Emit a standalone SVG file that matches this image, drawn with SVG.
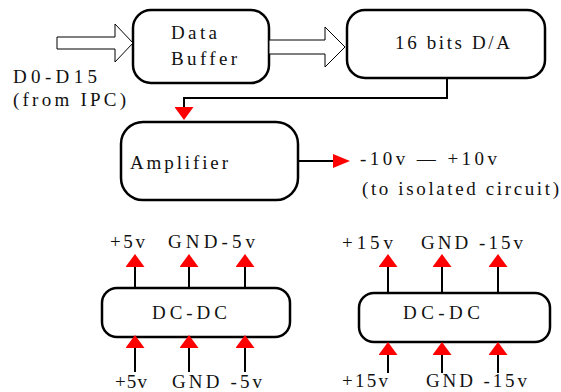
<svg xmlns="http://www.w3.org/2000/svg" width="561" height="392" viewBox="0 0 561 392">
<defs>
<style>
.box{fill:#fff;stroke:#000;stroke-width:2.5}
.t{font-family:"Liberation Serif","Times New Roman",serif;font-size:19px;fill:#111}
.ln{fill:none;stroke:#000;stroke-width:2}
.hol{fill:#fff;stroke:#000;stroke-width:1}
</style>
<marker id="ah" markerUnits="userSpaceOnUse" viewBox="0 0 13 19" refX="0" refY="9.5" markerWidth="13" markerHeight="19" orient="auto">
<path d="M0,0 L13,9.5 L0,19 Z" fill="#f00"/>
</marker>
<marker id="ah2" markerUnits="userSpaceOnUse" viewBox="0 0 17 14" refX="0" refY="7" markerWidth="17" markerHeight="14" orient="auto">
<path d="M0,0 L17,7 L0,14 Z" fill="#f00"/>
</marker>
</defs>
<rect width="561" height="392" fill="#fff"/>

<g id="input-label">
<text class="t" x="13" y="83" textLength="84" lengthAdjust="spacing">D0-D15</text>
<text class="t" x="13" y="106" textLength="113" lengthAdjust="spacing">(from IPC)</text>
</g>

<g id="data-buffer">
<rect class="box" x="133" y="10" width="136" height="73" rx="18"/>
<text class="t" x="171" y="39" textLength="46" lengthAdjust="spacing">Data</text>
<text class="t" x="171" y="65" textLength="66" lengthAdjust="spacing">Buffer</text>
</g>

<g id="da">
<rect class="box" x="347" y="10" width="198" height="68" rx="18"/>
<text class="t" x="395" y="49" textLength="115" lengthAdjust="spacing">16 bits D/A</text>
</g>

<g id="amplifier">
<rect class="box" x="121" y="122" width="177" height="78" rx="22"/>
<text class="t" x="130" y="169" textLength="98" lengthAdjust="spacing">Amplifier</text>
</g>

<g id="output-label">
<text class="t" x="360" y="165" textLength="137" lengthAdjust="spacing">-10v — +10v</text>
<text class="t" x="362" y="195" textLength="197" lengthAdjust="spacing">(to isolated circuit)</text>
</g>

<g id="dcdc-5v">
<rect class="box" x="102" y="288" width="188" height="49" rx="15"/>
<text class="t" x="152" y="319" textLength="75" lengthAdjust="spacing">DC-DC</text>
<text class="t" x="110" y="248" textLength="35" lengthAdjust="spacing">+5v</text>
<text class="t" x="168" y="248" textLength="87" lengthAdjust="spacing">GND-5v</text>
<text class="t" x="115" y="388" textLength="32" lengthAdjust="spacing">+5v</text>
<text class="t" x="172" y="388" textLength="90" lengthAdjust="spacing">GND -5v</text>
</g>

<g id="dcdc-15v">
<rect class="box" x="359" y="293" width="191" height="49" rx="15"/>
<text class="t" x="403" y="319" textLength="77" lengthAdjust="spacing">DC-DC</text>
<text class="t" x="342" y="249" textLength="51" lengthAdjust="spacing">+15v</text>
<text class="t" x="421" y="249" textLength="102" lengthAdjust="spacing">GND -15v</text>
<text class="t" x="342" y="387" textLength="46" lengthAdjust="spacing">+15v</text>
<text class="t" x="426" y="387" textLength="101" lengthAdjust="spacing">GND -15v</text>
</g>

<g id="connectors">
<polygon class="hol" points="57,37 115,37 115,24 133,43 115,62 115,49 57,49"/>
<polygon class="hol" points="269,40 325,40 325,27 345,47 325,67 325,54 269,54"/>
<path class="ln" d="M447,78 V98 H184 V107" marker-end="url(#ah)"/>
<path class="ln" d="M298,161 H333" marker-end="url(#ah2)"/>
<path class="ln" d="M135,288 V267" marker-end="url(#ah)"/>
<path class="ln" d="M189,288 V267" marker-end="url(#ah)"/>
<path class="ln" d="M245,288 V267" marker-end="url(#ah)"/>
<path class="ln" d="M135,372 V348" marker-end="url(#ah)"/>
<path class="ln" d="M189,372 V348" marker-end="url(#ah)"/>
<path class="ln" d="M245,372 V348" marker-end="url(#ah)"/>
<path class="ln" d="M388,293 V267" marker-end="url(#ah)"/>
<path class="ln" d="M442,293 V267" marker-end="url(#ah)"/>
<path class="ln" d="M498,293 V267" marker-end="url(#ah)"/>
<path class="ln" d="M388,373 V355" marker-end="url(#ah)"/>
<path class="ln" d="M442,373 V355" marker-end="url(#ah)"/>
<path class="ln" d="M498,373 V355" marker-end="url(#ah)"/>
</g>
</svg>
